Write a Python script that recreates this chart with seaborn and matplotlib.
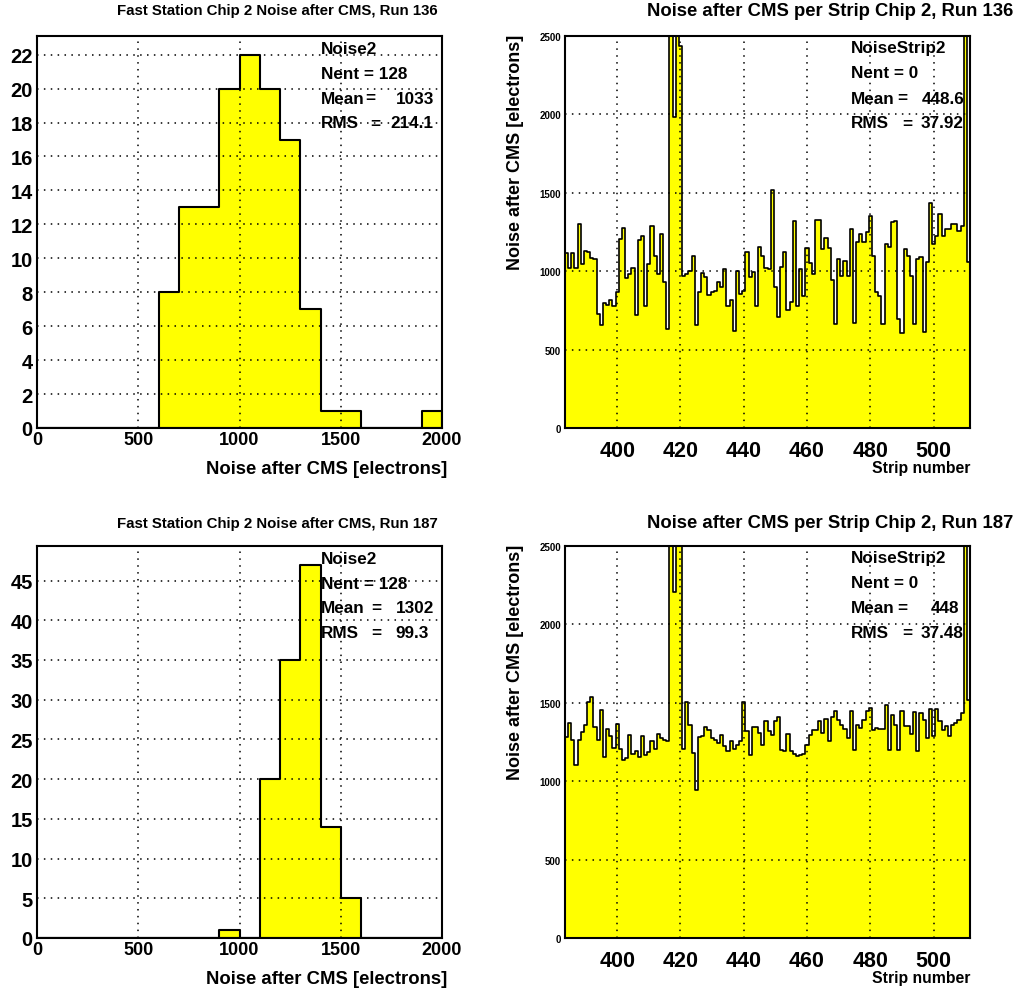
import numpy as np
import pandas as pd
import matplotlib
matplotlib.use("Agg")
import matplotlib.pyplot as plt
from matplotlib.ticker import MultipleLocator
import seaborn as sns

# ---------------- data ----------------
noise_centers = np.arange(50, 2000, 100)
counts_run136 = [0, 0, 0, 0, 0, 0, 8, 13, 13, 20, 22, 20, 17, 7, 1, 1, 0, 0, 0, 1]
counts_run187 = [0, 0, 0, 0, 0, 0, 0, 0, 0, 1, 0, 20, 35, 47, 14, 5, 0, 0, 0, 0]

strips = np.arange(384, 512)
strip_noise_run136 = [
    1115, 1023, 1115, 1023, 1304, 1049, 1128, 1122, 1087, 1079,
    728, 658, 800, 785, 817, 777, 866, 1206, 1274, 955,
    979, 1019, 721, 1200, 1227, 775, 1049, 1291, 1100, 983,
    1236, 930, 632, 5000, 1982, 5000, 2435, 972, 983, 1000,
    1100, 660, 866, 987, 962, 851, 870, 874, 934, 898,
    1015, 775, 817, 617, 1000, 855, 872, 1121, 962, 998,
    775, 1153, 1100, 1019, 1011, 1521, 902, 707, 1026, 1121,
    753, 802, 1317, 781, 1015, 841, 1147, 1051, 979, 1327,
    1327, 1142, 1213, 1147, 947, 663, 1079, 972, 1064, 972,
    1270, 668, 1185, 1238, 1185, 1249, 1355, 1100, 866, 845,
    664, 1174, 1153, 1313, 1317, 696, 607, 1142, 1100, 972,
    664, 1079, 1089, 611, 1057, 1434, 1174, 1227, 1366, 1227,
    1270, 1270, 1302, 1302, 1259, 1291, 5000, 1057]
strip_noise_run187 = [
    1282, 1371, 1265, 1102, 1265, 1314, 1360, 1504, 1536, 1343,
    1265, 1451, 1153, 1333, 1290, 1212, 1364, 1208, 1138, 1148,
    1292, 1174, 1191, 1153, 1290, 1165, 1186, 1254, 1208, 1301,
    1275, 1265, 1254, 5000, 2208, 5000, 5000, 1206, 1504, 1356,
    1180, 941, 1280, 1286, 1343, 1324, 1275, 1261, 1246, 1297,
    1222, 1195, 1254, 1208, 1233, 1254, 1504, 1322, 1165, 1343,
    1343, 1307, 1229, 1381, 1322, 1297, 1386, 1409, 1201, 1191,
    1301, 1191, 1174, 1159, 1170, 1176, 1233, 1292, 1328, 1328,
    1386, 1307, 1396, 1259, 1407, 1445, 1392, 1360, 1330, 1275,
    1445, 1201, 1360, 1338, 1392, 1445, 1466, 1328, 1338, 1330,
    1335, 1487, 1201, 1424, 1360, 1201, 1445, 1350, 1350, 1303,
    1441, 1191, 1435, 1392, 1275, 1462, 1286, 1462, 1381, 1328,
    1350, 1286, 1360, 1371, 1392, 1435, 5000, 1519]

runs = ["136", "187"]
stats_noise = [("128", "1033", "214.1"), ("128", "1302", "99.3")]
stats_strip = [("0", "448.6", "37.92"), ("0", "448", "37.48")]

# ---------------- style ----------------
sns.set_style("white")
plt.rcParams["font.family"] = ["Liberation Sans", "DejaVu Sans"]
plt.rcParams["font.weight"] = "bold"
for key in ["text.color", "axes.labelcolor", "xtick.color", "ytick.color", "axes.edgecolor"]:
    plt.rcParams[key] = "black"

W, H = 1018, 995
fig = plt.figure(figsize=(W / 100, H / 100), dpi=100)


def box(x0, y0, x1, y1):
    return [x0 / W, 1 - y1 / H, (x1 - x0) / W, (y1 - y0) / H]


def fpos(x, y):
    return x / W, 1 - y / H


def txt(x, y, s, size, ha="left", rot=0, va="center"):
    fig.text(*fpos(x, y), s, ha=ha, va=va, fontsize=size, fontweight="bold",
             rotation=rot, color="black", zorder=10)


YELLOW = "#ffff00"
STAT = 12.3


def style_axes(ax):
    for s in ax.spines.values():
        s.set_color("black")
        s.set_linewidth(1.5)
    ax.set_axisbelow(False)
    ax.grid(True, which="major", color="black", linestyle=(0, (1, 3.5)), linewidth=1.1)
    ax.tick_params(which="both", direction="in", top=False, right=False,
                   color="black", width=1.2)
    ax.tick_params(which="major", length=8)
    ax.tick_params(which="minor", length=4)
    ax.set_xlabel("")
    ax.set_ylabel("")


row_tops = [37, 547]
title_y = [11, 524]
for r in range(2):
    top = row_tops[r]
    bot = top + 392
    # ---------- left: noise distribution ----------
    ax = fig.add_axes(box(37, top, 442, bot))
    counts = counts_run136 if r == 0 else counts_run187
    df = pd.DataFrame({"noise": noise_centers, "n": counts})
    sns.histplot(data=df, x="noise", weights="n", binwidth=100, binrange=(0, 2000),
                 element="step", fill=True, color=YELLOW, alpha=1,
                 edgecolor="black", linewidth=1.5, ax=ax)
    ax.set_xlim(0, 2000)
    ax.set_ylim(0, 1.05 * max(counts))
    style_axes(ax)
    ax.xaxis.set_major_locator(MultipleLocator(500))
    ax.xaxis.set_minor_locator(MultipleLocator(250))
    if r == 0:
        ax.yaxis.set_major_locator(MultipleLocator(2))
        ax.yaxis.set_minor_locator(MultipleLocator(0.5))
    else:
        ax.yaxis.set_major_locator(MultipleLocator(5))
        ax.yaxis.set_minor_locator(MultipleLocator(1))
    ax.tick_params(axis="y", labelsize=14.5, pad=3)
    ax.tick_params(axis="x", labelsize=13, pad=2)
    for lab in ax.get_xticklabels() + ax.get_yticklabels():
        lab.set_fontweight("bold")
    txt(447, bot + 41, "Noise after CMS [electrons]", 13.3, ha="right")
    txt(277, title_y[r], f"Fast Station Chip 2 Noise after CMS, Run {runs[r]}", 10.8, ha="center")
    nent, mean, rms = stats_noise[r]
    eq_m, eq_r = (370, 375) if r == 0 else (376, 376)
    txt(321, top + 13, "Noise2", STAT)
    txt(321, top + 37.5, f"Nent = {nent}", STAT)
    txt(321, top + 62, "Mean", STAT)
    txt(eq_m, top + 62, "=", STAT, ha="center")
    txt(434, top + 62, mean, STAT, ha="right")
    txt(321, top + 87, "RMS", STAT)
    txt(eq_r, top + 87, "=", STAT, ha="center")
    txt(433 if r == 0 else 429, top + 87, rms, STAT, ha="right")

    # ---------- right: noise per strip ----------
    ax2 = fig.add_axes(box(565, top, 970, bot))
    vals = strip_noise_run136 if r == 0 else strip_noise_run187
    df2 = pd.DataFrame({"strip": strips, "noise": vals})
    sns.histplot(data=df2, x="strip", weights="noise", binwidth=1, binrange=(383.5, 511.5),
                 element="step", fill=True, color=YELLOW, alpha=1,
                 edgecolor="black", linewidth=1.2, ax=ax2)
    ax2.set_xlim(383.5, 511.5)
    ax2.set_ylim(0, 2500)
    style_axes(ax2)
    ax2.xaxis.set_major_locator(MultipleLocator(20))
    ax2.xaxis.set_minor_locator(MultipleLocator(5))
    ax2.yaxis.set_major_locator(MultipleLocator(500))
    ax2.yaxis.set_minor_locator(MultipleLocator(250))
    ax2.tick_params(axis="y", labelsize=7, pad=3)
    ax2.tick_params(axis="x", labelsize=15.5, pad=8.5)
    for lab in ax2.get_xticklabels() + ax2.get_yticklabels():
        lab.set_fontweight("bold")
    txt(970, bot + 40, "Strip number", 11.3, ha="right")
    txt(516, top - 2, "Noise after CMS [electrons]", 13, ha="center", rot=90, va="top")
    txt(830, title_y[r], f"Noise after CMS per Strip Chip 2, Run {runs[r]}", 13.3, ha="center")
    nent, mean, rms = stats_strip[r]
    txt(851, top + 12, "NoiseStrip2", STAT)
    txt(851, top + 37, f"Nent = {nent}", STAT)
    txt(851, top + 62, "Mean", STAT)
    txt(902, top + 62, "=", STAT, ha="center")
    txt(964 if r == 0 else 959, top + 62, mean, STAT, ha="right")
    txt(851, top + 87, "RMS", STAT)
    txt(907, top + 87, "=", STAT, ha="center")
    txt(963, top + 87, rms, STAT, ha="right")

fig.savefig("out.png", dpi=100, facecolor="white")
